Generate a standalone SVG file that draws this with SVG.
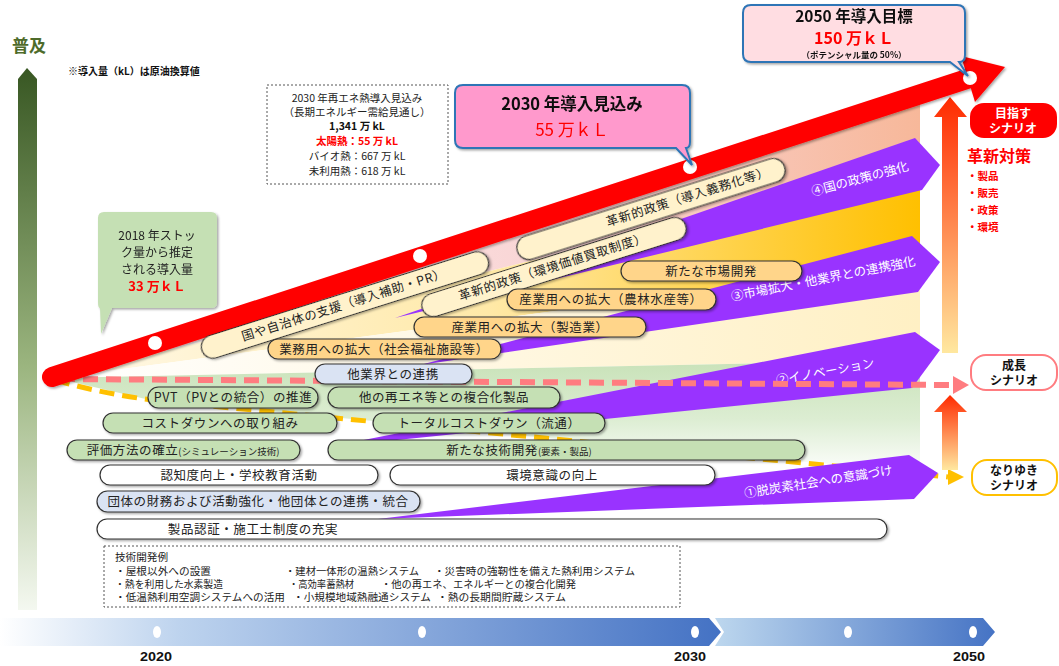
<svg xmlns="http://www.w3.org/2000/svg" width="1059" height="666" viewBox="0 0 1059 666">
<defs>
<style>
text{font-family:"Noto Sans CJK JP","Liberation Sans",sans-serif;}
.bar{stroke:#333;stroke-width:1.2;filter:url(#sh);}
.cream{fill:#FFF2CC}
.orange{fill:#FFD58A}
.green{fill:#C5E0B4}
.blue{fill:#DAE3F3}
.white{fill:#FFFFFF}
.bt{font-size:12.5px;fill:#222;text-anchor:middle;letter-spacing:0.6px}
.sm{font-size:9.5px;letter-spacing:0}
.pl{font-size:12.5px;fill:#fff;text-anchor:middle}
.purple{fill:#9933FF}
.info{font-size:10.5px;text-anchor:middle}
.tech{font-size:10px;fill:#222}
.yr{font-family:"Liberation Sans",sans-serif;font-size:13px;font-weight:bold;fill:#111;text-anchor:middle}
.sc{font-size:12px;font-weight:bold;text-anchor:middle}
</style>
<filter id="sh" x="-10%" y="-30%" width="120%" height="170%"><feDropShadow dx="1.5" dy="1.5" stdDeviation="1" flood-color="#000" flood-opacity="0.35"/></filter>
<linearGradient id="gPink" gradientUnits="userSpaceOnUse" x1="55" y1="0" x2="920" y2="0"><stop offset="0" stop-color="#FDF2F2"/><stop offset="0.6" stop-color="#F9D3D3"/><stop offset="1" stop-color="#F7B89A"/></linearGradient>
<linearGradient id="gGold" gradientUnits="userSpaceOnUse" x1="55" y1="0" x2="920" y2="0"><stop offset="0" stop-color="#FFF9EA"/><stop offset="0.5" stop-color="#FFE9A8"/><stop offset="1" stop-color="#FFC000"/></linearGradient>
<linearGradient id="gYel" gradientUnits="userSpaceOnUse" x1="55" y1="0" x2="920" y2="0"><stop offset="0" stop-color="#FFFFFF"/><stop offset="1" stop-color="#FFF0C4"/></linearGradient>
<linearGradient id="gGreen" gradientUnits="userSpaceOnUse" x1="0" y1="350" x2="0" y2="475"><stop offset="0" stop-color="#C5E0B4"/><stop offset="0.55" stop-color="#DCEDD2"/><stop offset="1" stop-color="#FFFFFF"/></linearGradient>
<linearGradient id="gLeft" x1="0" y1="0" x2="0" y2="1"><stop offset="0" stop-color="#385723"/><stop offset="0.55" stop-color="#9BB57F"/><stop offset="1" stop-color="#F4F8F0"/></linearGradient>
<linearGradient id="gUp" x1="0" y1="0" x2="0" y2="1"><stop offset="0" stop-color="#FF2A00"/><stop offset="1" stop-color="#FFE8A0"/></linearGradient>
<linearGradient id="gT1" gradientUnits="userSpaceOnUse" x1="0" y1="0" x2="720" y2="0"><stop offset="0" stop-color="#FFFFFF"/><stop offset="0.25" stop-color="#BDD3EE"/><stop offset="1" stop-color="#4472C4"/></linearGradient>
<linearGradient id="gT2" gradientUnits="userSpaceOnUse" x1="715" y1="0" x2="998" y2="0"><stop offset="0" stop-color="#BDD7EE"/><stop offset="1" stop-color="#4472C4"/></linearGradient>
</defs>

<!-- background fan -->
<g id="fan">
<polygon points="55,378 920,88 920,165" fill="url(#gPink)"/>
<polygon points="55,378 920,165 920,262" fill="url(#gGold)"/>
<polygon points="55,378 920,262 920,360" fill="url(#gYel)"/>
<polygon points="55,378 920,360 920,470 806,462 628,445 525,436 373,421 150,400" fill="url(#gGreen)"/>
</g>

<!-- left axis -->
<g id="axis">
<polygon points="27,68 37,79 37,610 18,610 18,79" fill="url(#gLeft)"/>
<text x="29" y="52" font-size="17" font-weight="bold" fill="#4E6B2A" text-anchor="middle">普及</text>
<text x="68" y="75" font-size="10" font-weight="bold" fill="#111">※導入量（kL）は原油換算値</text>
</g>

<!-- connectors: scenario dashed line (bau) -->
<g id="connector-bau">
<path d="M55,380 Q110,396 170,402 L948,477" fill="none" stroke="#FFC000" stroke-width="5" stroke-dasharray="15,8"/>
<polygon points="948,469 964,477 948,485" fill="#FFC000"/>
</g>

<!-- purple arrows -->
<g id="purple-arrows">
<polygon class="purple" points="395,318 915,138 940,165 922,190"/>
<polygon class="purple" points="420,365 912,236 940,262 918,292"/>
<polygon class="purple" points="328,447 915,332 940,350 912,388"/>
<polygon class="purple" points="378,519 909,455 938,473 914,499"/>
<text class="pl" transform="translate(861,183) rotate(-15)">④国の政策の強化</text>
<text class="pl" transform="translate(824,283) rotate(-11)">③市場拡大・他業界との連携強化</text>
<text class="pl" transform="translate(826,376) rotate(-10.5)">②イノベーション</text>
<text class="pl" transform="translate(819,486) rotate(-9)">①脱炭素社会への意識づけ</text>
</g>

<!-- connectors: growth dashed line and scenario arrows -->
<g id="connectors">
<path d="M60,379 L952,385" fill="none" stroke="#FF7C80" stroke-width="6" stroke-dasharray="15,8"/>
<polygon points="953,376 969,385 953,394" fill="#FF7C80"/>
<polygon points="950,97 934,117 942,117 942,353 958,353 958,117 967,117" fill="url(#gUp)"/>
<polygon points="950,395 934,412 942,412 942,470 958,470 958,412 967,412" fill="url(#gUp)"/>
</g>

<!-- red main arrow -->
<g id="red-arrow" filter="url(#sh)">
<line x1="52" y1="377" x2="970" y2="78" stroke="#FF0000" stroke-width="20" stroke-linecap="round"/>
<polygon points="975,102 961,56 1005,67" fill="#FF0000"/>
<circle cx="155" cy="343" r="7" fill="#fff"/>
<circle cx="420" cy="256" r="7" fill="#fff"/>
<circle cx="690" cy="167" r="7" fill="#fff"/>
<circle cx="970" cy="78" r="7" fill="#fff"/>
</g>

<!-- rotated cream bars -->
<g id="bar-a"><rect class="bar cream" transform="translate(345,305) rotate(-17.5)" x="-150" y="-11.5" width="300" height="23" rx="11.5"/>
<text class="bt" transform="translate(345,309) rotate(-17.5)">国や自治体の支援（導入補助・PR）</text></g>
<g id="bar-b"><rect class="bar cream" transform="translate(554,267) rotate(-17.5)" x="-138" y="-11.5" width="276" height="23" rx="11.5"/>
<text class="bt" transform="translate(554,271) rotate(-17.5)">革新的政策（環境価値買取制度）</text></g>
<g id="bar-c"><rect class="bar cream" transform="translate(651,209) rotate(-17.5)" x="-140" y="-12" width="280" height="24" rx="12"/>
<text class="bt" transform="translate(689,201) rotate(-17.5)">革新的政策（導入義務化等）</text></g>

<!-- horizontal bars -->
<g id="bar-market"><rect class="bar orange" x="621" y="261" width="181" height="20" rx="10"/><text class="bt" x="711" y="275.5">新たな市場開発</text></g>
<g id="bar-agri"><rect class="bar orange" x="507" y="289" width="209" height="21" rx="10.5"/><text class="bt" x="611" y="304">産業用への拡大（農林水産等）</text></g>
<g id="bar-manu"><rect class="bar orange" x="414" y="317" width="232" height="20" rx="10"/><text class="bt" x="530" y="331.5">産業用への拡大（製造業）</text></g>
<g id="bar-biz"><rect class="bar orange" x="268" y="339" width="233" height="20" rx="10"/><text class="bt" x="384" y="353.5">業務用への拡大（社会福祉施設等）</text></g>
<g id="bar-other"><rect class="bar blue" x="315" y="364" width="157" height="20" rx="10"/><text class="bt" x="393" y="378.5">他業界との連携</text></g>
<g id="bar-pvt"><rect class="bar green" x="148" y="387" width="170" height="21" rx="10.5"/><text class="bt" x="233" y="402">PVT（PVとの統合）の推進</text></g>
<g id="bar-hybrid"><rect class="bar green" x="328" y="387" width="232" height="21" rx="10.5"/><text class="bt" x="444" y="402">他の再エネ等との複合化製品</text></g>
<g id="bar-cost"><rect class="bar green" x="103" y="413" width="234" height="20" rx="10"/><text class="bt" x="220" y="427.5">コストダウンへの取り組み</text></g>
<g id="bar-total"><rect class="bar green" x="373" y="413" width="232" height="20" rx="10"/><text class="bt" x="489" y="427.5">トータルコストダウン（流通）</text></g>
<g id="bar-eval"><rect class="bar green" x="67" y="440" width="233" height="20" rx="10"/><text class="bt" x="183" y="454.5">評価方法の確立<tspan class="sm">(シミュレーション技術)</tspan></text></g>
<g id="bar-tech"><rect class="bar green" x="328" y="440" width="477" height="20" rx="10"/><text class="bt" x="519" y="454.5">新たな技術開発<tspan class="sm">(要素・製品)</tspan></text></g>
<g id="bar-aware"><rect class="bar white" x="100" y="465" width="278" height="20" rx="10"/><text class="bt" x="239" y="479.5">認知度向上・学校教育活動</text></g>
<g id="bar-env"><rect class="bar white" x="390" y="465" width="325" height="20" rx="10"/><text class="bt" x="552" y="479.5">環境意識の向上</text></g>
<g id="bar-org"><rect class="bar blue" x="97" y="491" width="323" height="21" rx="10.5"/><text class="bt" x="258" y="506">団体の財務および活動強化・他団体との連携・統合</text></g>
<g id="bar-cert"><rect class="bar white" x="97" y="519" width="790" height="20" rx="10"/><text class="bt" x="253" y="533.5">製品認証・施工士制度の充実</text></g>

<!-- info box -->
<g id="info-box">
<rect x="267" y="85" width="181" height="99" fill="#fff" stroke="#555" stroke-width="1" stroke-dasharray="2,2"/>
<text class="info" x="357" y="102" fill="#222">2030 年再エネ熱導入見込み</text>
<text class="info" x="357" y="116" fill="#222">（長期エネルギー需給見通し）</text>
<text class="info" x="357" y="130" font-weight="bold" fill="#111">1,341 万 kL</text>
<text class="info" x="357" y="145" font-weight="bold" fill="#FF0000">太陽熱：55 万 kL</text>
<text class="info" x="357" y="160" fill="#222">バイオ熱：667 万 kL</text>
<text class="info" x="357" y="175" fill="#222">未利用熱：618 万 kL</text>
</g>

<!-- callouts -->
<g id="callout-2030" filter="url(#sh)">
<path d="M463,85 H682 Q690,85 690,93 V142 Q690,148 686,148 L692,165 L676,148 H463 Q455,148 455,140 V93 Q455,85 463,85 Z" fill="#FF99CC" stroke="#2E75B6" stroke-width="2"/>
<text x="572" y="110" font-size="16.5" font-weight="bold" fill="#111" text-anchor="middle">2030 年導入見込み</text>
<text x="572" y="136" font-size="17" fill="#FF0000" text-anchor="middle">55 万ｋＬ</text>
</g>
<g id="callout-2050" filter="url(#sh)">
<path d="M751,5 H957 Q965,5 965,13 V55 Q965,62 959,62 L968,76 L950,62 H751 Q743,62 743,54 V13 Q743,5 751,5 Z" fill="#FFDDE2" stroke="#2E75B6" stroke-width="2"/>
<text x="854" y="22" font-size="15.5" font-weight="bold" fill="#111" text-anchor="middle">2050 年導入目標</text>
<text x="854" y="44" font-size="16" font-weight="bold" fill="#FF0000" text-anchor="middle">150 万ｋＬ</text>
<text x="854" y="58" font-size="8.5" font-weight="bold" fill="#111" text-anchor="middle">（ポテンシャル量の 50%）</text>
</g>
<g id="callout-2018" filter="url(#sh)">
<path d="M104,212 H211 Q217,212 217,218 V302 Q217,308 211,308 H112 L101,334 L100,308 Q98,308 98,302 V218 Q98,212 104,212 Z" fill="#C5E0B4"/>
<text x="157" y="240" font-size="12" fill="#222" text-anchor="middle">2018 年ストッ</text>
<text x="157" y="257" font-size="12" fill="#222" text-anchor="middle">ク量から推定</text>
<text x="157" y="274" font-size="12" fill="#222" text-anchor="middle">される導入量</text>
<text x="157" y="291" font-size="13" font-weight="bold" fill="#FF0000" text-anchor="middle">33 万ｋＬ</text>
</g>

<!-- scenarios -->
<g id="scenario-target">
<rect x="970" y="103" width="87" height="35" rx="14" fill="#FF0000"/>
<text class="sc" x="1013" y="118" fill="#fff">目指す</text>
<text class="sc" x="1013" y="133" fill="#fff">シナリオ</text>
<text x="967" y="162" font-size="16" font-weight="bold" fill="#FF0000">革新対策</text>
<text x="967" y="180" font-size="10.5" font-weight="bold" fill="#FF0000">・製品</text>
<text x="967" y="197" font-size="10.5" font-weight="bold" fill="#FF0000">・販売</text>
<text x="967" y="214" font-size="10.5" font-weight="bold" fill="#FF0000">・政策</text>
<text x="967" y="231" font-size="10.5" font-weight="bold" fill="#FF0000">・環境</text>
</g>
<g id="scenario-growth">
<rect x="971" y="355" width="86" height="35" rx="15" fill="#fff" stroke="#FF7C80" stroke-width="2"/>
<text class="sc" x="1014" y="370" fill="#111">成長</text>
<text class="sc" x="1014" y="385" fill="#111">シナリオ</text>
</g>
<g id="scenario-bau">
<rect x="972" y="460" width="85" height="35" rx="15" fill="#fff" stroke="#FFC000" stroke-width="2"/>
<text class="sc" x="1014" y="475" fill="#111">なりゆき</text>
<text class="sc" x="1014" y="490" fill="#111">シナリオ</text>
</g>

<!-- technology examples -->
<g id="tech-box">
<rect x="104" y="546" width="576" height="61" fill="#fff" stroke="#555" stroke-width="1" stroke-dasharray="2,2"/>
<text class="tech" x="115" y="561" textLength="53" lengthAdjust="spacingAndGlyphs">技術開発例</text>
<text class="tech" x="115" y="575" textLength="96" lengthAdjust="spacingAndGlyphs">・屋根以外への設置</text>
<text class="tech" x="285" y="575" textLength="134" lengthAdjust="spacingAndGlyphs">・建材一体形の温熱システム</text>
<text class="tech" x="434" y="575" textLength="201" lengthAdjust="spacingAndGlyphs">・災害時の強靭性を備えた熱利用システム</text>
<text class="tech" x="115" y="588" textLength="108" lengthAdjust="spacingAndGlyphs">・熱を利用した水素製造</text>
<text class="tech" x="289" y="588" textLength="65" lengthAdjust="spacingAndGlyphs">・高効率蓄熱材</text>
<text class="tech" x="381" y="588" textLength="195" lengthAdjust="spacingAndGlyphs">・他の再エネ、エネルギーとの複合化開発</text>
<text class="tech" x="115" y="601" textLength="170" lengthAdjust="spacingAndGlyphs">・低温熱利用空調システムへの活用</text>
<text class="tech" x="293" y="601" textLength="138" lengthAdjust="spacingAndGlyphs">・小規模地域熱融通システム</text>
<text class="tech" x="437" y="601" textLength="129" lengthAdjust="spacingAndGlyphs">・熱の長期間貯蔵システム</text>
</g>

<!-- timeline -->
<g id="timeline">
<polygon points="0,618 709,618 721,632 709,646 0,646" fill="url(#gT1)"/>
<polygon points="715,618 983,618 995,632 983,646 715,646 724,632" fill="url(#gT2)"/>
<ellipse cx="157" cy="632" rx="4" ry="6" fill="#fff"/>
<ellipse cx="422" cy="632" rx="4" ry="6" fill="#fff"/>
<ellipse cx="695" cy="632" rx="4" ry="6" fill="#fff"/>
<ellipse cx="848" cy="632" rx="4" ry="6" fill="#fff"/>
<ellipse cx="973" cy="632" rx="4" ry="6" fill="#fff"/>
<text class="yr" x="156" y="661" textLength="32" lengthAdjust="spacingAndGlyphs">2020</text>
<text class="yr" x="690" y="661" textLength="32" lengthAdjust="spacingAndGlyphs">2030</text>
<text class="yr" x="969" y="661" textLength="32" lengthAdjust="spacingAndGlyphs">2050</text>
</g>
</svg>
